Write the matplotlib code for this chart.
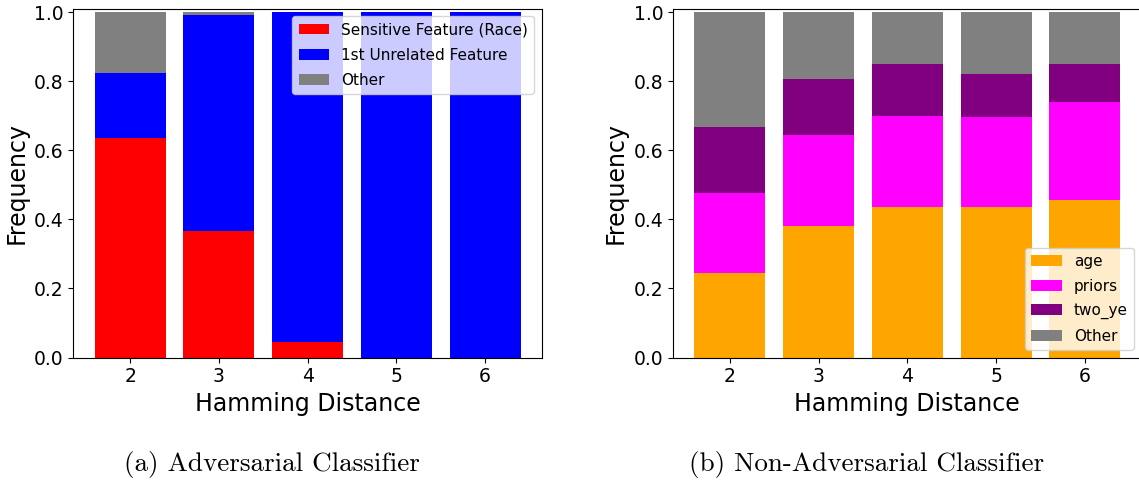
import numpy as np
import matplotlib
matplotlib.use("Agg")
import matplotlib.pyplot as plt

# hamming distances on the x axis
distances = [2, 3, 4, 5, 6]

# adversarial classifier: share of each explaining feature
adv_race = [0.637, 0.367, 0.046, 0.0, 0.0]
adv_unrelated = [0.188, 0.625, 0.954, 1.0, 1.0]
adv_other = [0.175, 0.008, 0.0, 0.0, 0.0]

# non-adversarial classifier
nonadv_age = [0.246, 0.380, 0.435, 0.435, 0.457]
nonadv_priors = [0.230, 0.264, 0.264, 0.261, 0.284]
nonadv_two_ye = [0.191, 0.162, 0.152, 0.124, 0.110]
nonadv_other = [0.333, 0.194, 0.149, 0.180, 0.149]

fig = plt.figure(figsize=(11.39, 4.83), dpi=100)
ax1 = fig.add_axes([0.0644, 0.2598, 0.4114, 0.7222])
ax2 = fig.add_axes([0.5909, 0.2598, 0.4114, 0.7222])


def stacked(ax, series, labels, colors):
    bottom = np.zeros(len(distances))
    for vals, lab, col in zip(series, labels, colors):
        ax.bar(distances, vals, bottom=bottom, color=col, label=lab, width=0.8)
        bottom += np.array(vals)
    ax.set_ylim(0, 1.01)
    ax.set_xticks(distances)
    ax.tick_params(labelsize=13.5)
    ax.set_xlabel("Hamming Distance", fontsize=17)
    ax.set_ylabel("Frequency", fontsize=17)


stacked(ax1, [adv_race, adv_unrelated, adv_other],
        ["Sensitive Feature (Race)", "1st Unrelated Feature", "Other"],
        ["red", "blue", "grey"])
ax1.legend(loc="upper right", fontsize=11, labelspacing=0.66)

stacked(ax2, [nonadv_age, nonadv_priors, nonadv_two_ye, nonadv_other],
        ["age", "priors", "two_ye", "Other"],
        ["orange", "magenta", "purple", "grey"])
ax2.legend(loc="lower right", fontsize=11, labelspacing=0.62)

# subfigure captions
cap_y = 1 - 470.5 / 483
fig.text(272 / 1139, cap_y, "(a) Adversarial Classifier",
         family="cmr10", fontsize=19.5, ha="center", va="baseline")
fig.text(867 / 1139, cap_y, "(b) Non-Adversarial Classifier",
         family="cmr10", fontsize=19.5, ha="center", va="baseline")

fig.savefig("out.png", dpi=100)
